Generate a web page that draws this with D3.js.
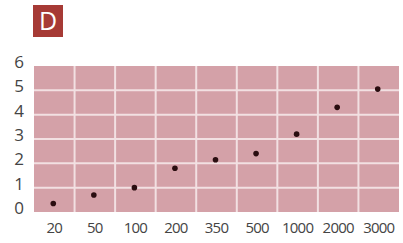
<!DOCTYPE html>
<html lang="en">
<head>
    <meta charset="UTF-8">
    <script src="https://d3js.org/d3.v7.min.js"></script>
    <style>
        body { margin: 0; background: #fff; }
        text { font-family: "Open Sans", sans-serif; }
    </style>
    <title>D</title>
</head>
<body>
<svg id="chart"></svg>
<script>
    // x categories and measured values
    var categories = ["20", "50", "100", "200", "350", "500", "1000", "2000", "3000"]
    var values = [0.35, 0.7, 1.0, 1.8, 2.15, 2.4, 3.2, 4.3, 5.05]
    var yTicks = [0, 1, 2, 3, 4, 5, 6]

    var width = 403, height = 243
    var marge = {top: 66, bottom: 31, left: 34, right: 4}

    var svg = d3.select("#chart").attr("width", width).attr("height", height)

    // panel label
    svg.append("rect")
        .attr("x", 33).attr("y", 5)
        .attr("width", 30).attr("height", 32)
        .attr("fill", "#a63a35")
    svg.append("text")
        .attr("x", 48).attr("y", 30)
        .attr("text-anchor", "middle")
        .attr("fill", "#fff")
        .style("font-size", "25px")
        .text("D")

    var x = d3.scaleBand()
        .domain(categories)
        .range([marge.left, width - marge.right])

    var y = d3.scaleLinear()
        .domain([0, 6])
        .range([height - marge.bottom, marge.top])

    var g = svg.append("g")

    // background
    g.append("rect")
        .attr("x", marge.left)
        .attr("y", marge.top)
        .attr("width", width - marge.left - marge.right)
        .attr("height", height - marge.top - marge.bottom)
        .attr("fill", "#d4a1a8")

    // horizontal grid
    g.selectAll(".hgrid")
        .data(yTicks.slice(1, 6))
        .enter()
        .append("line")
        .attr("x1", marge.left)
        .attr("x2", width - marge.right)
        .attr("y1", function (d) { return y(d) })
        .attr("y2", function (d) { return y(d) })
        .attr("stroke", "#f2e0e2")
        .attr("stroke-width", 2)

    // vertical grid
    g.selectAll(".vgrid")
        .data(categories.slice(1))
        .enter()
        .append("line")
        .attr("x1", function (d) { return x(d) })
        .attr("x2", function (d) { return x(d) })
        .attr("y1", marge.top)
        .attr("y2", height - marge.bottom)
        .attr("stroke", "#f2e0e2")
        .attr("stroke-width", 2)

    // y axis labels
    var yAxis = d3.axisLeft(y).tickValues(yTicks).tickFormat(d3.format("d")).tickSize(0).tickPadding(10)
    svg.append("g")
        .attr("transform", "translate(" + marge.left + ",-4)")
        .call(yAxis)
        .call(function (s) { s.select(".domain").remove() })
        .selectAll("text")
        .attr("fill", "#444")
        .style("font-size", "17px")
        .style("font-family", "'Open Sans', sans-serif")

    // x axis labels
    var xAxis = d3.axisBottom(x).tickSize(0).tickPadding(10)
    svg.append("g")
        .attr("transform", "translate(0," + (height - marge.bottom) + ")")
        .call(xAxis)
        .call(function (s) { s.select(".domain").remove() })
        .selectAll("text")
        .attr("fill", "#444")
        .style("font-size", "15px")
        .style("letter-spacing", "-0.8px")
        .style("font-family", "'Open Sans', sans-serif")

    // points
    g.selectAll(".dot")
        .data(values)
        .enter()
        .append("circle")
        .attr("cx", function (d, i) { return x(categories[i]) + x.bandwidth() / 2 - 1 })
        .attr("cy", function (d) { return y(d) })
        .attr("r", 2.8)
        .attr("fill", "#2a0d10")
</script>
</body>
</html>
